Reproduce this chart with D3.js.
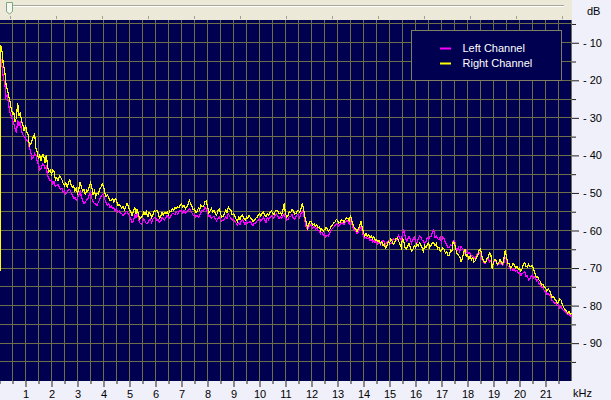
<!DOCTYPE html>
<html>
<head>
<meta charset="utf-8">
<script src="https://cdn.jsdelivr.net/npm/d3@7"></script>
<style>
  body { margin: 0; background: #f0f0fa; overflow: hidden; }
  svg { display: block; }
  .text { font-family: "Liberation Sans", Arial, sans-serif; font-size: 11px; }
</style>
</head>
<body>
<script>
var width = 611;
var height = 400;
var plotRight = 572;
var plotTop = 20;
var plotBottom = 381;

// frequency bins (kHz)
var freqKHz = [
  0, 0.05, 0.1, 0.15, 0.2, 0.25, 0.3, 0.35, 0.4, 0.45, 0.5, 0.55, 0.6, 0.65, 0.7, 0.75, 0.8, 0.85, 0.9, 0.95, 1.0,
  1.05, 1.1, 1.15, 1.2, 1.25, 1.3, 1.35, 1.4, 1.45, 1.5, 1.55, 1.6, 1.65, 1.7, 1.75, 1.8, 1.85, 1.9, 1.95, 2.0,
  2.05, 2.1, 2.15, 2.2, 2.25, 2.3, 2.35, 2.4, 2.45, 2.5, 2.55, 2.6, 2.65, 2.7, 2.75, 2.8, 2.85, 2.9, 2.95, 3.0,
  3.05, 3.1, 3.15, 3.2, 3.25, 3.3, 3.35, 3.4, 3.45, 3.5, 3.55, 3.6, 3.65, 3.7, 3.75, 3.8, 3.85, 3.9, 3.95, 4.0,
  4.05, 4.1, 4.15, 4.2, 4.25, 4.3, 4.35, 4.4, 4.45, 4.5, 4.55, 4.6, 4.65, 4.7, 4.75, 4.8, 4.85, 4.9, 4.95, 5.0,
  5.05, 5.1, 5.15, 5.2, 5.25, 5.3, 5.35, 5.4, 5.45, 5.5, 5.55, 5.6, 5.65, 5.7, 5.75, 5.8, 5.85, 5.9, 5.95, 6.0,
  6.05, 6.1, 6.15, 6.2, 6.25, 6.3, 6.35, 6.4, 6.45, 6.5, 6.55, 6.6, 6.65, 6.7, 6.75, 6.8, 6.85, 6.9, 6.95, 7.0,
  7.05, 7.1, 7.15, 7.2, 7.25, 7.3, 7.35, 7.4, 7.45, 7.5, 7.55, 7.6, 7.65, 7.7, 7.75, 7.8, 7.85, 7.9, 7.95, 8.0,
  8.05, 8.1, 8.15, 8.2, 8.25, 8.3, 8.35, 8.4, 8.45, 8.5, 8.55, 8.6, 8.65, 8.7, 8.75, 8.8, 8.85, 8.9, 8.95, 9.0,
  9.05, 9.1, 9.15, 9.2, 9.25, 9.3, 9.35, 9.4, 9.45, 9.5, 9.55, 9.6, 9.65, 9.7, 9.75, 9.8, 9.85, 9.9, 9.95, 10.0,
  10.05, 10.1, 10.15, 10.2, 10.25, 10.3, 10.35, 10.4, 10.45, 10.5, 10.55, 10.6, 10.65, 10.7, 10.75, 10.8, 10.85, 10.9, 10.95, 11.0,
  11.05, 11.1, 11.15, 11.2, 11.25, 11.3, 11.35, 11.4, 11.45, 11.5, 11.55, 11.6, 11.65, 11.7, 11.75, 11.8, 11.85, 11.9, 11.95, 12.0,
  12.05, 12.1, 12.15, 12.2, 12.25, 12.3, 12.35, 12.4, 12.45, 12.5, 12.55, 12.6, 12.65, 12.7, 12.75, 12.8, 12.85, 12.9, 12.95, 13.0,
  13.05, 13.1, 13.15, 13.2, 13.25, 13.3, 13.35, 13.4, 13.45, 13.5, 13.55, 13.6, 13.65, 13.7, 13.75, 13.8, 13.85, 13.9, 13.95, 14.0,
  14.05, 14.1, 14.15, 14.2, 14.25, 14.3, 14.35, 14.4, 14.45, 14.5, 14.55, 14.6, 14.65, 14.7, 14.75, 14.8, 14.85, 14.9, 14.95, 15.0,
  15.05, 15.1, 15.15, 15.2, 15.25, 15.3, 15.35, 15.4, 15.45, 15.5, 15.55, 15.6, 15.65, 15.7, 15.75, 15.8, 15.85, 15.9, 15.95, 16.0,
  16.05, 16.1, 16.15, 16.2, 16.25, 16.3, 16.35, 16.4, 16.45, 16.5, 16.55, 16.6, 16.65, 16.7, 16.75, 16.8, 16.85, 16.9, 16.95, 17.0,
  17.05, 17.1, 17.15, 17.2, 17.25, 17.3, 17.35, 17.4, 17.45, 17.5, 17.55, 17.6, 17.65, 17.7, 17.75, 17.8, 17.85, 17.9, 17.95, 18.0,
  18.05, 18.1, 18.15, 18.2, 18.25, 18.3, 18.35, 18.4, 18.45, 18.5, 18.55, 18.6, 18.65, 18.7, 18.75, 18.8, 18.85, 18.9, 18.95, 19.0,
  19.05, 19.1, 19.15, 19.2, 19.25, 19.3, 19.35, 19.4, 19.45, 19.5, 19.55, 19.6, 19.65, 19.7, 19.75, 19.8, 19.85, 19.9, 19.95, 20.0,
  20.05, 20.1, 20.15, 20.2, 20.25, 20.3, 20.35, 20.4, 20.45, 20.5, 20.55, 20.6, 20.65, 20.7, 20.75, 20.8, 20.85, 20.9, 20.95, 21.0,
  21.05, 21.1, 21.15, 21.2, 21.25, 21.3, 21.35, 21.4, 21.45, 21.5, 21.55, 21.6, 21.65, 21.7, 21.75, 21.8, 21.85, 21.9, 21.95, 22.0
];

// level below 0 dB (axis shows "- 10" etc.)
var leftDb = [
  56.5, 14.3, 16.5, 19.5, 20.5, 24.5, 24, 26.5, 28.5, 29.5, 30.5, 31.5, 33, 34, 30.5, 32, 31, 33.5, 34.5, 35, 35.5,
  36, 36.5, 38, 39, 41, 40.5, 39.5, 40, 41.5, 42.5, 43.8, 43.5, 42.3, 42.5, 43.5, 43, 45.5, 46, 46.8, 46.5,
  47.5, 47, 48.3, 48, 47.8, 48.5, 49, 48.8, 49.8, 49.5, 50.3, 50, 49.2, 49, 50, 50.5, 51.5, 51.2, 52, 51.5,
  50.5, 49.5, 51, 52, 52.8, 52.5, 51.8, 51.5, 50.5, 49.8, 51.5, 52.3, 52.8, 53, 53.4, 52.5, 51.8, 51, 50.5, 50.2,
  51.8, 52.5, 53.2, 52.8, 53.8, 53.5, 54.2, 54, 54.8, 54.3, 55, 54.8, 55.5, 55.5, 56, 55.8, 55.2, 54.8, 55.5, 56,
  57, 58, 57.5, 55.9, 56.5, 55.5, 57, 58, 58.3, 57.8, 57, 57.5, 58.2, 58, 57.3, 57, 57.8, 57, 56.6, 56.5,
  57.3, 57, 57.8, 57.5, 56.6, 56.8, 57.2, 56.5, 56, 56.5, 56.8, 56, 55.5, 55.5, 55.9, 55, 55.6, 55, 54.6, 54.6,
  55.3, 54.6, 55.4, 55, 54.6, 54.2, 54.6, 55.3, 56, 55.8, 56.5, 56, 56.4, 56, 55.3, 54.6, 54.8, 53.7, 54.2, 55,
  56.2, 56, 56.8, 56.5, 56.2, 57, 57.4, 56.8, 56.3, 57, 57.5, 57.3, 57, 56.4, 56.8, 55.5, 56.2, 56.8, 57.3, 57,
  57.6, 58, 58.6, 58, 58.4, 57.5, 57.2, 57.8, 58.4, 57.5, 58, 57.8, 57.6, 58.3, 58.6, 58.1, 58, 57.5, 57.2, 56.8,
  57.6, 57, 56.5, 57.3, 57.8, 56.6, 57.1, 56.5, 56.1, 56.2, 56.8, 56, 55.6, 56.2, 56.8, 56.3, 56.8, 56, 55.5, 56.6,
  57.2, 57, 56.2, 56.3, 55.7, 56.8, 57, 56.3, 55.8, 55.8, 56.6, 55.3, 54.8, 55.8, 57.5, 59.3, 59.8, 59, 58.4, 58.8,
  59.4, 58.8, 59.6, 59.3, 60.1, 60, 60.8, 60.4, 61.3, 61, 61.8, 61.3, 61.5, 60.6, 60, 59.5, 59.2, 58.8, 58.2, 58.4,
  58.8, 58.4, 58, 58, 58.4, 57.8, 57.4, 57.5, 58.2, 57.1, 58.4, 59.3, 59.8, 60.2, 60.8, 60.4, 59.8, 59, 60.2, 61.5,
  62, 61.7, 62.2, 61.9, 62.8, 62.4, 63, 62.6, 63.3, 62.8, 63.6, 63.1, 63.8, 63.3, 62.6, 63.1, 63.8, 63.3, 62.7, 63.3,
  63.5, 63, 62.2, 62.4, 62.8, 61.9, 61.2, 62, 62.6, 61.2, 59.7, 61.5, 62.8, 62.4, 61.6, 62.2, 63.4, 62.4, 61.8, 62.8,
  63.4, 62.2, 61.5, 61.7, 62.5, 62.8, 63.5, 63, 62, 62.4, 61.6, 61.5, 60.5, 59.9, 61.8, 61.5, 62.2, 62.4, 61.8, 63,
  61.8, 62.2, 63.2, 63.8, 64.6, 64.6, 63.8, 64, 62.8, 62.6, 64.5, 65.3, 64.6, 65.7, 64.2, 64.8, 65.5, 66, 65.3, 66.4,
  65.8, 66.2, 66.8, 66.6, 67.4, 67.2, 66.6, 66, 65.8, 66.2, 67.6, 68.2, 68.8, 68.6, 67.8, 67.5, 68.3, 68, 68.8, 68.6,
  67.8, 68.2, 69.2, 69, 68.4, 69, 69.3, 68.6, 67.2, 67.8, 69.4, 69.7, 70.5, 70, 70.6, 70.2, 70.9, 70.6, 71.4, 71.2,
  72, 71.5, 71.2, 71, 72.3, 72, 73.2, 72.8, 72.2, 71.9, 72.6, 72.3, 73.5, 73.2, 74.2, 74.5, 75.2, 75.2, 76, 76.3,
  77, 76.7, 77.2, 77.6, 78.6, 78.8, 79.4, 79.2, 80, 79.8, 80.6, 80.3, 81, 81.3, 81.6, 81.8, 82.4, 82.2, 82.8, 82.5
];

var rightDb = [
  100, 10.7, 12.5, 16, 17.5, 21, 22.5, 24, 25.5, 27.5, 29, 28.5, 31, 30, 26, 29.5, 28.5, 31, 32, 33.5, 32,
  33.8, 34.5, 37.5, 37, 36, 35, 34.2, 38, 39, 41, 40, 41.5, 39.7, 40, 42, 39.8, 43, 44.5, 43.8, 45,
  44, 44.3, 46.5, 46, 46.8, 45.5, 45.8, 46.5, 47.5, 48, 47.2, 48.5, 47.5, 46.2, 47.8, 48.5, 48, 49.5, 48.8, 50,
  49, 47, 48.5, 49.5, 49, 50.5, 49.2, 49.5, 48.5, 47.3, 48.5, 50.5, 49.5, 51, 50, 50.2, 49, 48.5, 47.5, 48.2,
  50, 51, 50.5, 51.2, 52, 52, 51.5, 52.5, 51.5, 52, 53.3, 53, 53.5, 54, 53.5, 54.5, 53.8, 52.8, 53.5, 54.5,
  55, 56, 55, 53.7, 55.5, 54.2, 56, 57, 56.5, 56.2, 55, 55.8, 55, 56.5, 55.2, 55.5, 56.5, 55.8, 54.8, 55,
  54.6, 55.3, 56.8, 56.4, 55.2, 55.9, 55.2, 55.5, 55, 55.7, 54.8, 55, 54.2, 54.6, 53.8, 54.2, 53.7, 54, 53.2, 52.8,
  53.8, 53.3, 54.2, 53.7, 53, 52, 52.8, 53.5, 54.5, 54.2, 55.2, 55, 54, 54.5, 53.2, 53.7, 53.6, 52.4, 52.2, 53.5,
  55.2, 54.8, 54.2, 55, 54.6, 55.5, 56, 54.8, 54.3, 55.5, 56.4, 56.2, 55.5, 54.6, 55.2, 53.7, 54.2, 54.6, 55.8, 55.5,
  56.2, 57, 57.7, 56.5, 57, 56, 55.9, 56.8, 57.3, 56.4, 56.8, 56, 56.6, 57, 57.7, 57.3, 56.8, 56.5, 56, 55.5,
  56.2, 55.5, 55, 56, 56.4, 55.5, 55.9, 55.3, 54.8, 55.2, 55.8, 55, 54.6, 54.8, 55.6, 55.3, 55.8, 54.6, 52.8, 55.5,
  56.4, 56, 55, 55.3, 54.4, 54.8, 55.6, 55.5, 54.8, 54.6, 55.2, 54, 52.8, 54.5, 56.5, 58, 59.3, 58.2, 57.5, 57.8,
  58.6, 58.2, 58.8, 58.4, 59.3, 59, 60, 59.5, 60.2, 60, 59.2, 59.5, 60.2, 59.8, 59, 58.5, 58, 57.8, 57.1, 57.3,
  58, 57.8, 57.1, 57.3, 57.8, 57, 56.6, 56.8, 57.5, 56, 57.5, 58.5, 59.3, 59.7, 60.2, 59.5, 58.8, 57.5, 59.2, 60.6,
  61.5, 60.8, 61.6, 61.1, 62, 61.5, 62.2, 61.7, 62.6, 62.4, 63, 62.6, 63.5, 63, 64, 63.7, 64.6, 64.2, 63, 63.5,
  62.4, 62.8, 63.7, 63.1, 62.2, 62, 62.8, 63.7, 64.5, 62, 63, 64.5, 65, 64.2, 63.5, 64.4, 65.5, 65, 64, 64.6,
  63.5, 64.2, 63.3, 63.7, 64.6, 65.5, 64, 64.6, 63.8, 63.3, 64.5, 64, 63.1, 63.3, 64, 63.5, 64.8, 64.4, 65.5, 65.3,
  64.6, 65, 66, 65.7, 66.8, 66.5, 65.2, 65.5, 63, 63.2, 65, 66.2, 66.6, 67, 68.2, 67.7, 66, 65, 66.8, 66.5,
  67.5, 66.8, 67.8, 67.2, 68.4, 68, 67, 66.6, 65, 64.9, 66.8, 67.7, 68.6, 68.4, 67.5, 67, 66, 66.5, 70.1, 68.4,
  67.8, 68, 69, 68.6, 67.8, 68.4, 69, 67.5, 65.3, 67, 68.8, 68.8, 70, 69.7, 68.8, 69, 70, 69.5, 70.3, 70,
  70.8, 70.2, 68.8, 68.6, 69.5, 69.7, 69, 69.5, 69.6, 69.3, 70.6, 71.5, 72.5, 72.3, 73.2, 73.5, 74.5, 74.3, 75, 75.2,
  76.2, 75.5, 76, 76.7, 77.8, 77.6, 78.2, 78.5, 79.4, 79, 78.2, 78.5, 79.8, 80.5, 81, 81.3, 82, 81.6, 82.3, 82
];

var seriesNames = ["Left Channel", "Right Channel"];
var seriesColors = ["#ff00ff", "#ffff00"];

var khzMajor = [1, 2, 3, 4, 5, 6, 7, 8, 9, 10, 11, 12, 13, 14, 15, 16, 17, 18, 19, 20, 21];
var khzMinor = [0, 0.5, 1.5, 2.5, 3.5, 4.5, 5.5, 6.5, 7.5, 8.5, 9.5, 10.5, 11.5, 12.5, 13.5, 14.5, 15.5, 16.5, 17.5, 18.5, 19.5, 20.5, 21.5];
var dbMajor = [10, 20, 30, 40, 50, 60, 70, 80, 90];
var dbMinor = [5, 15, 25, 35, 45, 55, 65, 75, 85, 95];

window.onload = function() {

  var svg = d3.select("body")
              .append("svg")
              .attr("width", width)
              .attr("height", height);

  var xScale = d3.scaleLinear()
                 .domain([0, 22])
                 .range([-0.5, 571.5]);

  var yScale = d3.scaleLinear()
                 .domain([0, 100])
                 .range([5.2, 380.7]);

  // top toolbar with slider
  svg.append("rect")
     .attr("x", 0)
     .attr("y", 0)
     .attr("width", plotRight)
     .attr("height", plotTop)
     .attr("fill", "#ece9d8");

  svg.append("line")
     .attr("x1", 10).attr("x2", 564)
     .attr("y1", 5.5).attr("y2", 5.5)
     .attr("stroke", "#a7a69a");
  svg.append("line")
     .attr("x1", 10).attr("x2", 564)
     .attr("y1", 6.5).attr("y2", 6.5)
     .attr("stroke", "#ffffff");

  svg.selectAll(".slidertick")
     .data(d3.range(10, 565, 46))
     .enter()
     .append("line")
     .attr("class", "slidertick")
     .attr("x1", function(d) { return d + 0.5; })
     .attr("x2", function(d) { return d + 0.5; })
     .attr("y1", 16)
     .attr("y2", 19)
     .attr("stroke", "#a0a090");

  svg.append("path")
     .attr("d", "M6.5,2.5 H12.5 V11.5 L9.5,14 L6.5,11.5 Z")
     .attr("fill", "#f7f7f2")
     .attr("stroke", "#7ca77c");

  // plot background
  svg.append("rect")
     .attr("x", 0)
     .attr("y", plotTop)
     .attr("width", plotRight)
     .attr("height", plotBottom - plotTop)
     .attr("fill", "#000050");

  var grid = svg.append("g")
                .attr("stroke", "#6e6e48")
                .attr("stroke-width", 1);

  var vGrid = khzMajor.concat(khzMinor.slice(1)).concat([22]);
  grid.selectAll(".vgrid")
      .data(vGrid)
      .enter()
      .append("line")
      .attr("x1", function(d) { return Math.floor(xScale(d)) + 0.5; })
      .attr("x2", function(d) { return Math.floor(xScale(d)) + 0.5; })
      .attr("y1", plotTop)
      .attr("y2", plotBottom);

  grid.selectAll(".hgrid")
      .data(dbMajor.concat(dbMinor))
      .enter()
      .append("line")
      .attr("x1", 0)
      .attr("x2", plotRight)
      .attr("y1", function(d) { return Math.floor(yScale(d)) + 0.5; })
      .attr("y2", function(d) { return Math.floor(yScale(d)) + 0.5; });

  // spectrum lines
  svg.append("clipPath")
     .attr("id", "plotclip")
     .append("rect")
     .attr("x", 0)
     .attr("y", plotTop)
     .attr("width", plotRight)
     .attr("height", plotBottom - plotTop);

  var line = d3.line()
               .x(function(d) { return xScale(d[0]); })
               .y(function(d) { return yScale(d[1]); });

  var series = [leftDb, rightDb];
  series.forEach(function(values, i) {
    var points = freqKHz.map(function(f, j) { return [f, values[j]]; });
    svg.append("path")
       .datum(points)
       .attr("clip-path", "url(#plotclip)")
       .attr("d", line)
       .attr("fill", "none")
       .attr("stroke", seriesColors[i])
       .attr("stroke-width", 1.2)
       .attr("shape-rendering", "crispEdges");
  });

  // bottom axis
  var xAxis = d3.axisBottom(xScale)
                .tickValues(khzMajor)
                .tickSize(6)
                .tickPadding(3)
                .tickFormat(function(d) { return d; });

  var xAxisMinor = d3.axisBottom(xScale)
                     .tickValues(khzMinor)
                     .tickSize(3)
                     .tickFormat("");

  var gx = svg.append("g")
              .attr("transform", "translate(0," + plotBottom + ")")
              .attr("class", "text")
              .call(xAxis);
  svg.append("g")
     .attr("transform", "translate(0," + plotBottom + ")")
     .call(xAxisMinor)
     .select(".domain").remove();
  gx.select(".domain").remove();

  // right axis
  var yAxis = d3.axisRight(yScale)
                .tickValues(dbMajor)
                .tickSize(7)
                .tickPadding(4)
                .tickFormat(function(d) { return "- " + d; });

  var yAxisMinor = d3.axisRight(yScale)
                     .tickValues(dbMinor)
                     .tickSize(4)
                     .tickFormat("");

  var gy = svg.append("g")
              .attr("transform", "translate(" + plotRight + ",0)")
              .attr("class", "text")
              .call(yAxis);
  svg.append("g")
     .attr("transform", "translate(" + plotRight + ",0)")
     .call(yAxisMinor)
     .select(".domain").remove();
  gy.select(".domain").remove();

  svg.selectAll(".tick line").attr("stroke", "#222");
  svg.selectAll(".text text")
     .attr("font-family", "Liberation Sans, Arial, sans-serif")
     .attr("font-size", 11)
     .attr("fill", "#000");

  // unit labels
  svg.append("text")
     .attr("x", 573)
     .attr("y", 397)
     .attr("class", "text")
     .text("kHz");

  svg.append("text")
     .attr("x", 587)
     .attr("y", 15)
     .attr("class", "text")
     .text("dB");

  // legend
  var legend = svg.append("g")
                  .attr("transform", "translate(411.5,30.5)");

  legend.append("rect")
        .attr("width", 150)
        .attr("height", 50)
        .attr("fill", "#000050")
        .attr("stroke", "#808060");

  seriesNames.forEach(function(name, i) {
    legend.append("rect")
          .attr("x", 28.5)
          .attr("y", 17 + i * 15)
          .attr("width", 11)
          .attr("height", 2)
          .attr("fill", seriesColors[i]);

    legend.append("text")
          .attr("x", 51)
          .attr("y", 21.5 + i * 15)
          .attr("class", "text")
          .attr("fill", "#ffffff")
          .text(name);
  });
}
</script>
</body>
</html>
